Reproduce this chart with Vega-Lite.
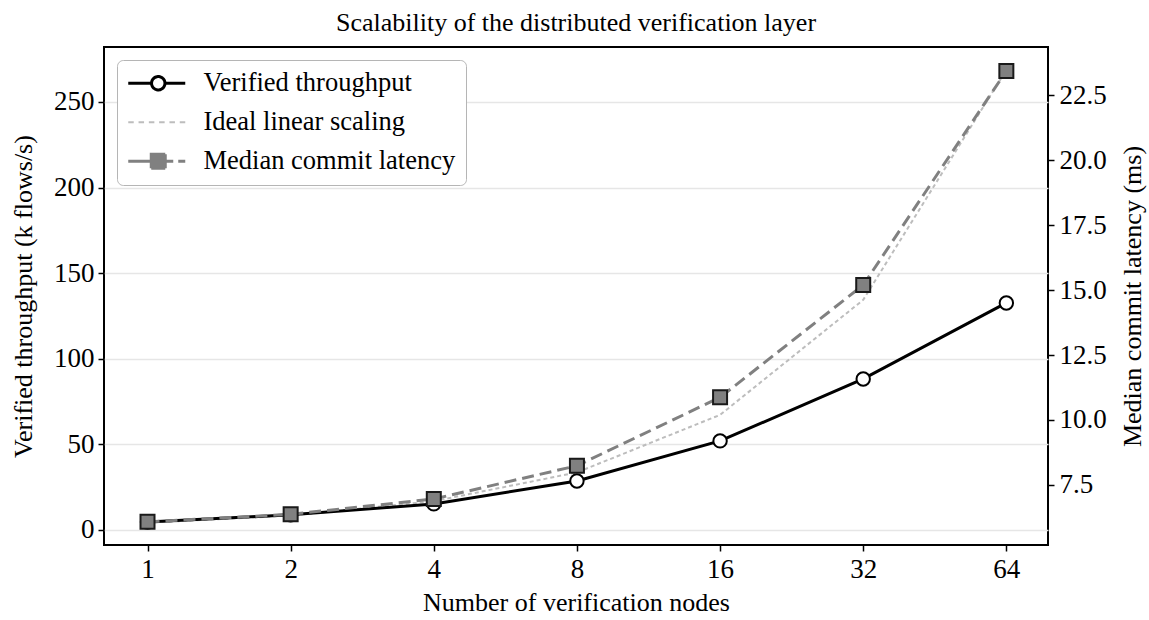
{
  "$schema": "https://vega.github.io/schema/vega-lite/v6.json",
  "width": 944,
  "height": 498,
  "autosize": {"type": "none"},
  "padding": {"left": 104, "top": 47, "right": 101, "bottom": 75},
  "title": {
    "text": "Scalability of the distributed verification layer",
    "font": "Liberation Serif",
    "fontSize": 26,
    "fontWeight": "normal",
    "color": "black",
    "anchor": "middle",
    "baseline": "alphabetic",
    "offset": -10
  },
  "config": {
    "view": {"stroke": "black", "strokeWidth": 2},
    "axis": {
      "labelFont": "Liberation Serif",
      "titleFont": "Liberation Serif",
      "labelFontSize": 27,
      "titleFontSize": 26,
      "titleFontWeight": "normal",
      "labelColor": "black",
      "titleColor": "black",
      "tickColor": "black",
      "tickWidth": 1.5,
      "tickSize": 6,
      "domain": false,
      "grid": false
    }
  },
  "data": {
    "values": [
      {"nodes": 1, "series": "Verified throughput", "value": 4.6},
      {"nodes": 2, "series": "Verified throughput", "value": 8.8},
      {"nodes": 4, "series": "Verified throughput", "value": 15.2},
      {"nodes": 8, "series": "Verified throughput", "value": 28.6},
      {"nodes": 16, "series": "Verified throughput", "value": 52.0},
      {"nodes": 32, "series": "Verified throughput", "value": 88.2},
      {"nodes": 64, "series": "Verified throughput", "value": 132.6},
      {"nodes": 1, "series": "Ideal linear scaling", "value": 4.2},
      {"nodes": 2, "series": "Ideal linear scaling", "value": 8.4},
      {"nodes": 4, "series": "Ideal linear scaling", "value": 16.8},
      {"nodes": 8, "series": "Ideal linear scaling", "value": 33.6},
      {"nodes": 16, "series": "Ideal linear scaling", "value": 67.2},
      {"nodes": 32, "series": "Ideal linear scaling", "value": 134.4},
      {"nodes": 64, "series": "Ideal linear scaling", "value": 268.8},
      {"nodes": 1, "series": "Median commit latency", "value": 6.08},
      {"nodes": 2, "series": "Median commit latency", "value": 6.37},
      {"nodes": 4, "series": "Median commit latency", "value": 6.96},
      {"nodes": 8, "series": "Median commit latency", "value": 8.24},
      {"nodes": 16, "series": "Median commit latency", "value": 10.87},
      {"nodes": 32, "series": "Median commit latency", "value": 15.19},
      {"nodes": 64, "series": "Median commit latency", "value": 23.43}
    ]
  },
  "layer": [
    {
      "layer": [
        {
          "transform": [{"filter": "datum.series === 'Ideal linear scaling'"}],
          "mark": {"type": "line", "strokeWidth": 2, "strokeDash": [4, 3]},
          "encoding": {
            "x": {
              "field": "nodes",
              "type": "quantitative",
              "scale": {"type": "log", "base": 2, "domain": [0.81, 78.3], "nice": false},
              "axis": {
                "values": [1, 2, 4, 8, 16, 32, 64],
                "format": "d",
                "title": "Number of verification nodes",
                "labelPadding": 5,
                "titlePadding": 7
              }
            },
            "y": {
              "field": "value",
              "type": "quantitative",
              "scale": {"domain": [-8.8, 282.1], "nice": false, "zero": false},
              "axis": {
                "orient": "left",
                "values": [0, 50, 100, 150, 200, 250],
                "title": "Verified throughput (k flows/s)",
                "grid": true,
                "gridColor": "#e6e6e6",
                "gridWidth": 1.5,
                "labelPadding": 4,
                "titlePadding": 17
              }
            },
            "stroke": {
              "field": "series",
              "type": "nominal",
              "scale": {
                "domain": ["Verified throughput", "Ideal linear scaling", "Median commit latency"],
                "range": ["black", "#bdbdbd", "#808080"]
              },
              "legend": {
                "title": null,
                "orient": "none",
                "legendX": 13,
                "legendY": 13,
                "padding": 10,
                "fillColor": "white",
                "strokeColor": "#b5b5b5",
                "cornerRadius": 6,
                "symbolSize": 400,
                "labelOffset": 50,
                "rowPadding": 12,
                "labelFont": "Liberation Serif",
                "labelFontSize": 26.5,
                "labelColor": "black",
                "labelLimit": 400,
                "encode": {
                  "symbols": {
                    "update": {
                      "shape": {"signal": "datum.value === 'Verified throughput' ? 'M-1.2,0L1.13,0M2.47,0A0.67,0.67,0,1,1,1.13,0A0.67,0.67,0,1,1,2.47,0L4.5,0' : datum.value === 'Ideal linear scaling' ? 'M-1.2,0L-0.65,0M-0.17,0L0.38,0M0.86,0L1.41,0M1.89,0L2.44,0M2.92,0L3.47,0M3.95,0L4.5,0' : 'M-1.2,0L1.1,0M1.1,-0.7L2.5,-0.7L2.5,0.7L1.1,0.7ZM2.5,0L3.3,0M3.8,0L4.5,0'"},
                      "fill": {"signal": "datum.value === 'Verified throughput' ? 'white' : datum.value === 'Ideal linear scaling' ? 'transparent' : '#808080'"},
                      "stroke": {"signal": "datum.value === 'Verified throughput' ? 'black' : datum.value === 'Ideal linear scaling' ? '#c4c4c4' : '#6a6a6a'"},
                      "strokeWidth": {"signal": "datum.value === 'Ideal linear scaling' ? 2 : 3"},
                      "strokeDash": {"value": [1, 0]},
                      "opacity": {"value": 1}
                    }
                  }
                }
              }
            }
          }
        },
        {
          "transform": [{"filter": "datum.series === 'Verified throughput'"}],
          "mark": {"type": "line", "strokeWidth": 3},
          "encoding": {
            "x": {"field": "nodes", "type": "quantitative"},
            "y": {"field": "value", "type": "quantitative"},
            "stroke": {"field": "series", "type": "nominal"}
          }
        },
        {
          "transform": [{"filter": "datum.series === 'Verified throughput'"}],
          "mark": {"type": "point", "shape": "circle", "filled": true, "fill": "white", "stroke": "black", "strokeWidth": 2, "size": 180, "opacity": 1},
          "encoding": {
            "x": {"field": "nodes", "type": "quantitative"},
            "y": {"field": "value", "type": "quantitative"}
          }
        }
      ]
    },
    {
      "layer": [
        {
          "transform": [{"filter": "datum.series === 'Median commit latency'"}],
          "mark": {"type": "line", "strokeWidth": 3, "strokeDash": [12, 6]},
          "encoding": {
            "x": {"field": "nodes", "type": "quantitative"},
            "y": {
              "field": "value",
              "type": "quantitative",
              "scale": {"domain": [5.19, 24.35], "nice": false, "zero": false},
              "axis": {
                "orient": "right",
                "values": [7.5, 10, 12.5, 15, 17.5, 20, 22.5],
                "format": ".1f",
                "title": "Median commit latency (ms)",
                "titleAngle": 270,
                "titleBaseline": "top",
                "labelPadding": 5,
                "titlePadding": 13
              }
            },
            "stroke": {"field": "series", "type": "nominal"}
          }
        },
        {
          "transform": [{"filter": "datum.series === 'Median commit latency'"}],
          "mark": {"type": "point", "shape": "square", "filled": true, "fill": "#808080", "stroke": "#1a1a1a", "strokeWidth": 2, "size": 196, "opacity": 1},
          "encoding": {
            "x": {"field": "nodes", "type": "quantitative"},
            "y": {"field": "value", "type": "quantitative"}
          }
        }
      ]
    }
  ],
  "resolve": {"scale": {"y": "independent"}}
}
